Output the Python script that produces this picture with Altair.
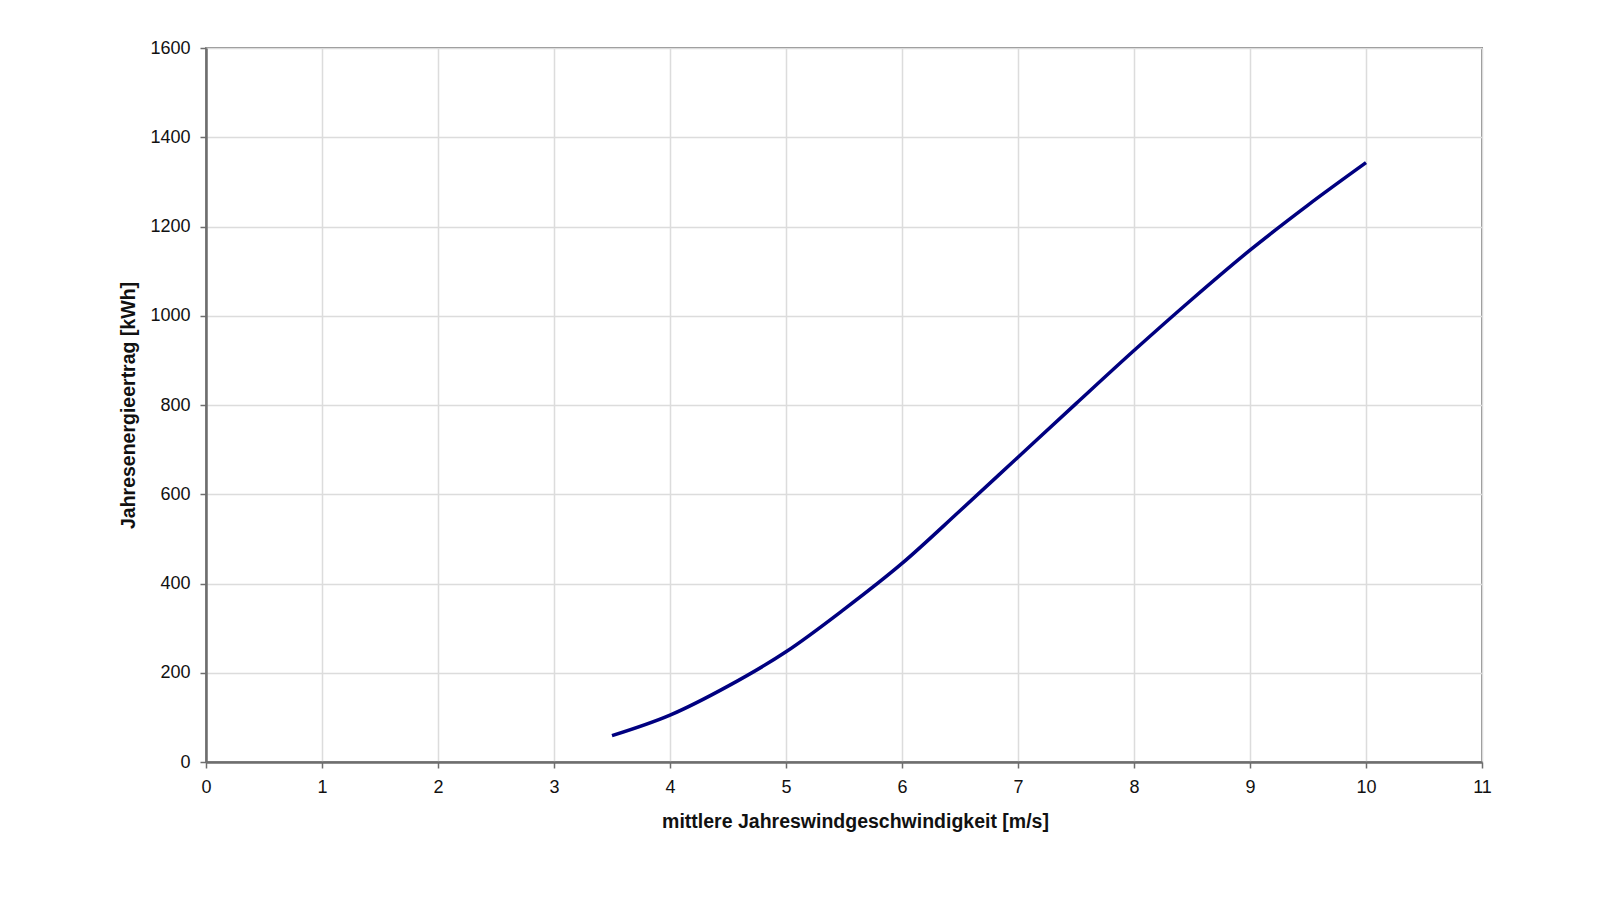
import altair as alt
import pandas as pd

wind = [3.5, 4, 4.5, 5, 5.5, 6, 6.5, 7, 7.5, 8, 8.5, 9, 9.5, 10]
energy = [59, 105, 170, 247, 342, 445, 563, 683, 803, 922, 1037, 1147, 1248, 1343]

df = pd.DataFrame({"wind": wind, "energy": energy})

x_ticks = list(range(0, 12))
y_ticks = list(range(0, 1601, 200))

chart = alt.Chart(df).mark_line(
    color="#000080", strokeWidth=3.5, interpolate="monotone"
).encode(
    x=alt.X("wind:Q",
            scale=alt.Scale(domain=[0, 11], nice=False, zero=False),
            axis=alt.Axis(values=x_ticks, format="d", labelFlush=False,
                          title="mittlere Jahreswindgeschwindigkeit [m/s]",
                          titlePadding=16, labelPadding=10, titleX=649)),
    y=alt.Y("energy:Q",
            scale=alt.Scale(domain=[0, 1600], nice=False),
            axis=alt.Axis(values=y_ticks, format="d", labelFlush=False,
                          title="Jahresenergieertrag [kWh]",
                          titlePadding=11, labelPadding=10)),
).properties(
    width=1276,
    height=714,
    autosize=alt.AutoSizeParams(type="none"),
    padding={"left": 198, "top": 40, "right": 100, "bottom": 110},
).configure(
    font="Liberation Sans",
).configure_view(
    stroke="#8c8c8c", strokeWidth=2
).configure_axis(
    domainColor="#6e6e6e", domainWidth=2.5,
    tickColor="#6e6e6e", tickSize=6, tickWidth=1.5,
    gridColor="#dcdcdc", gridWidth=1.5,
    labelColor="#111111", labelFontSize=18, labelFont="Liberation Sans",
    titleColor="#111111", titleFontSize=19.5, titleFont="Liberation Sans", titleFontWeight="bold",
)

chart.save("out.html", embed_options={"renderer": "svg", "actions": False})
